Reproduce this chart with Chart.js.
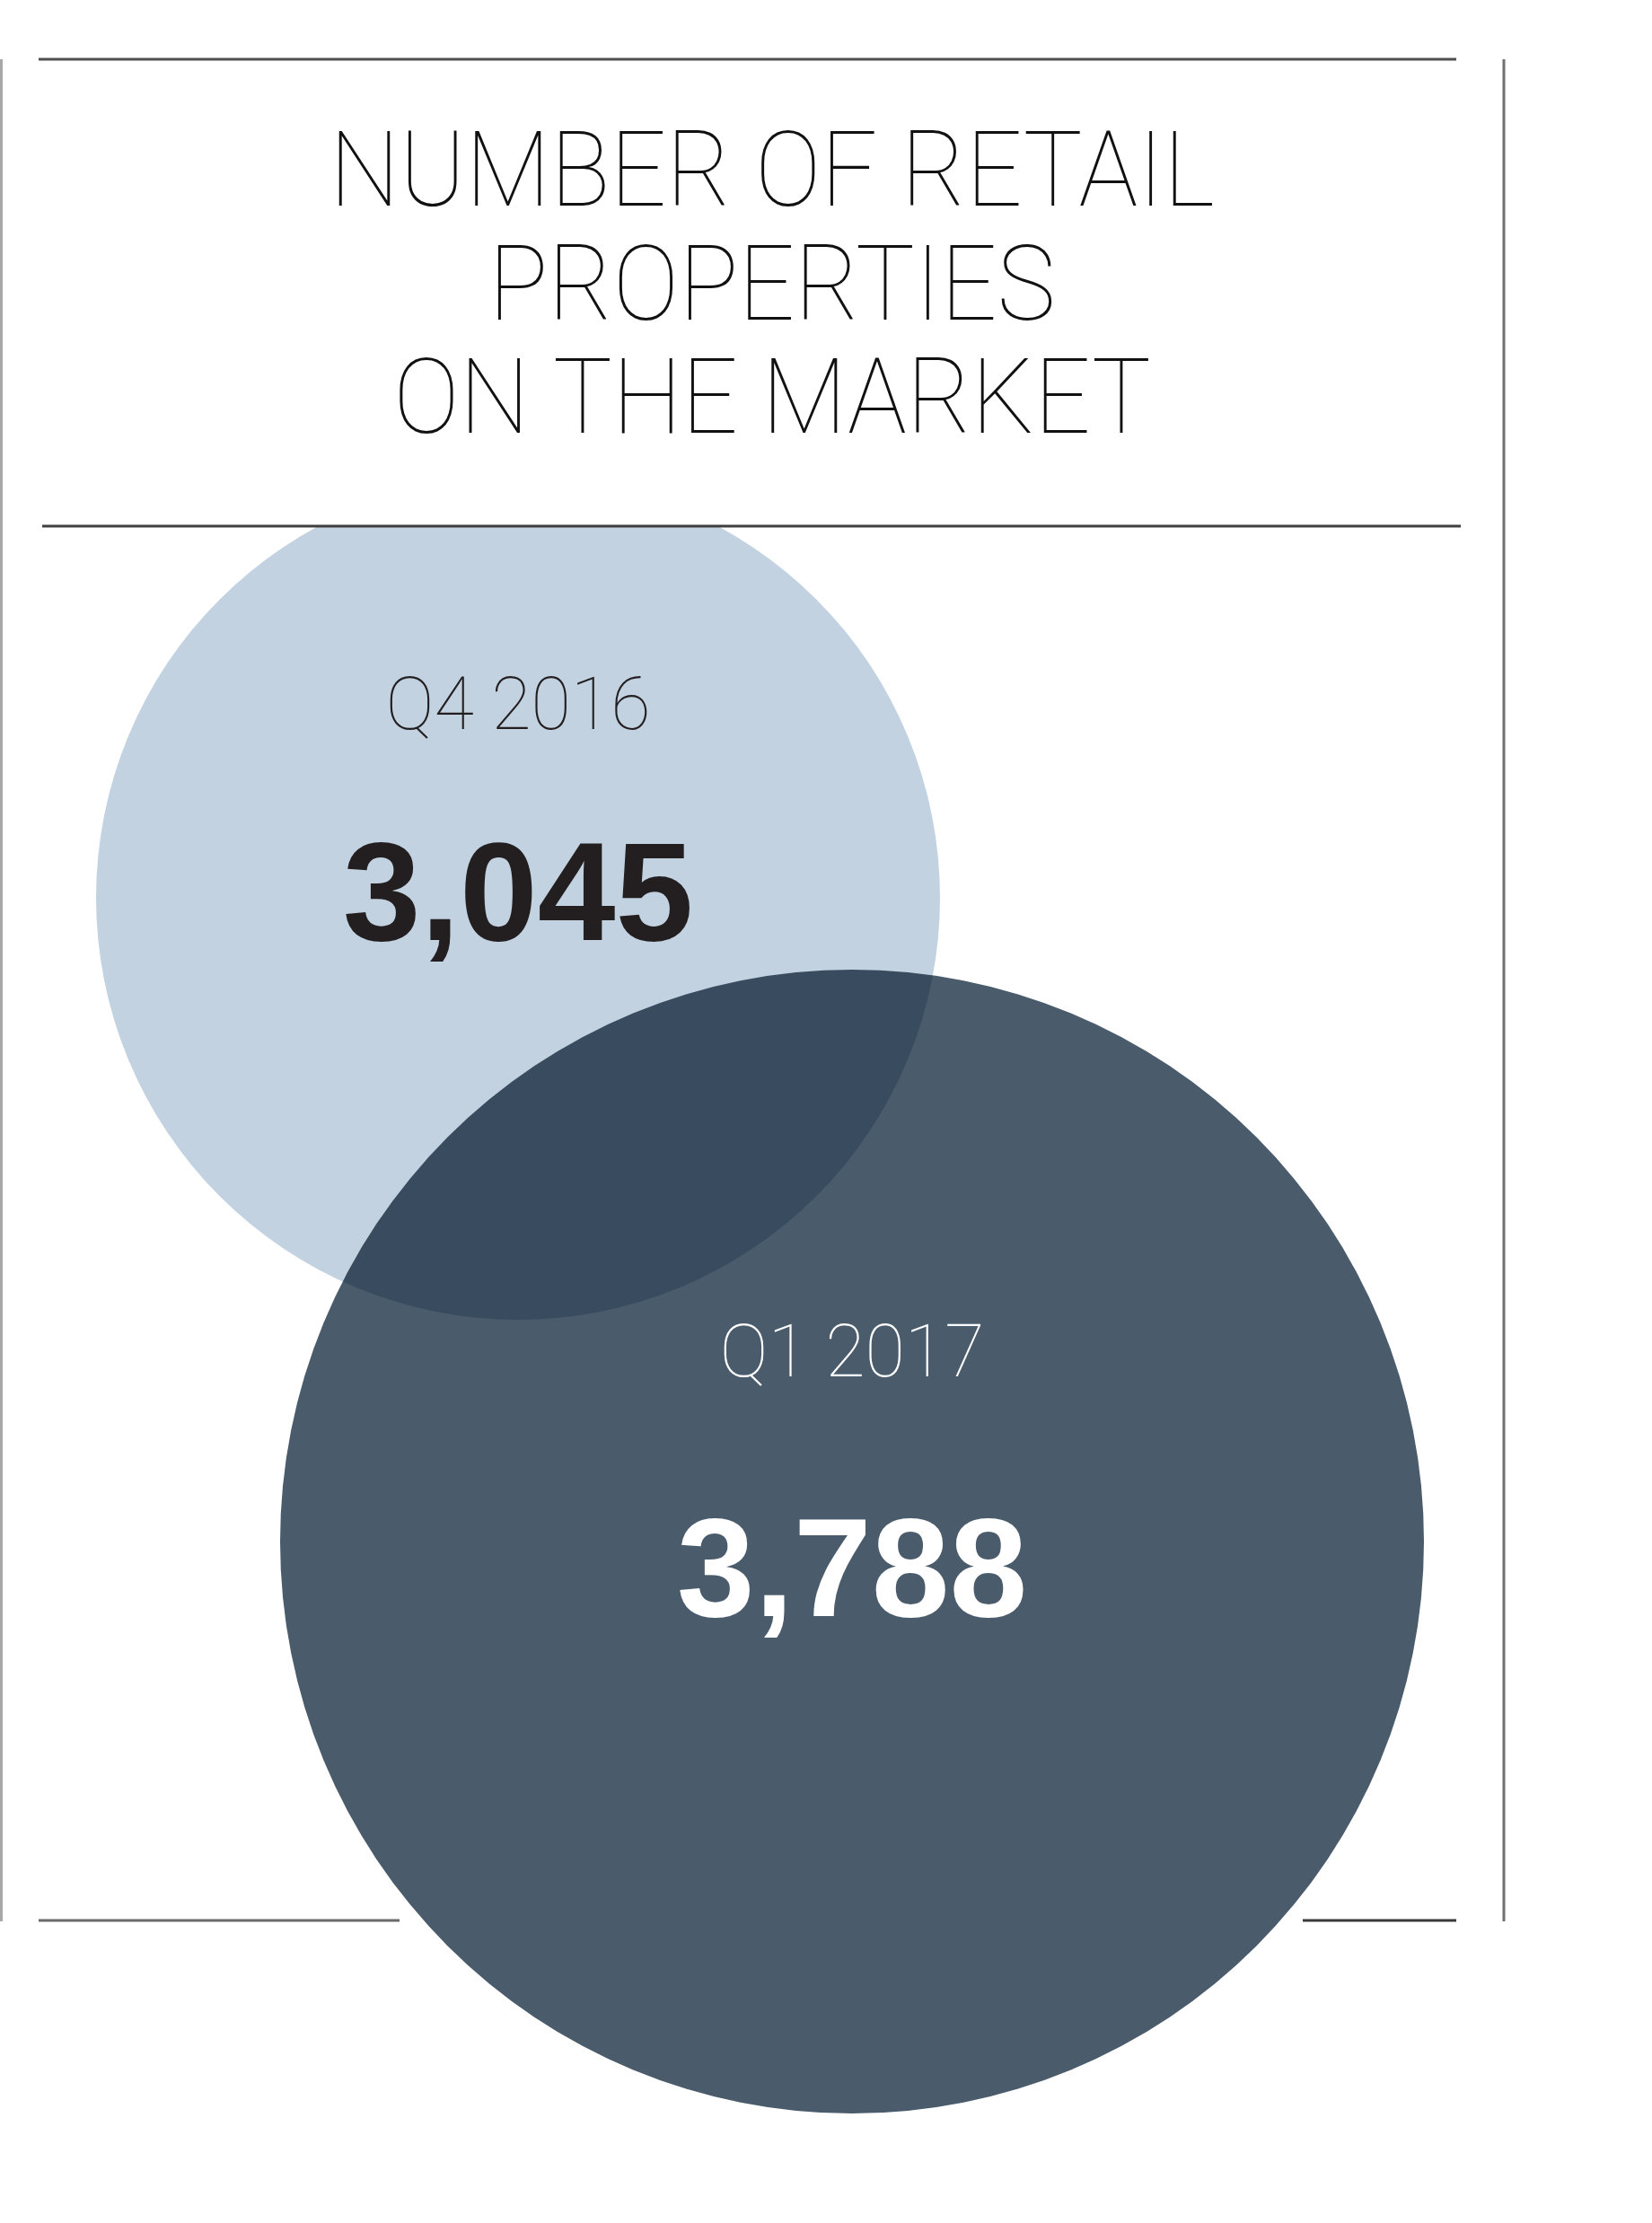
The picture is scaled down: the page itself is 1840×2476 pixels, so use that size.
<!DOCTYPE html>
<html>
<head>
<meta charset="utf-8">
<script src="https://cdn.jsdelivr.net/npm/chart.js@4/dist/chart.umd.min.js"></script>
<style>
  html, body { margin: 0; padding: 0; background: #ffffff; }
  #wrap { position: relative; width: 1840px; height: 2476px; }
  canvas { display: block; }
</style>
</head>
<body>
<div id="wrap"><canvas id="c" width="1840" height="2476"></canvas></div>
<script>
// ---- data ----
const titleLines = ['NUMBER OF RETAIL', 'PROPERTIES', 'ON THE MARKET'];
const categories = ['Q4 2016', 'Q1 2017'];
const values = [3045, 3788];
const valueLabels = ['3,045', '3,788'];

// ---- styles ----
const bubbleColors = ['#c2d2e1', '#4a5b6c'];
const bubbleRadii = [470, 637];
const textColors = ['#231f20', '#ffffff'];
const labelOffsets = [-188, -184];
const numberOffsets = [47, 83];

const W = 1840, H = 2476;

// Bubble controller whose bubbles may reach the canvas edge (no auto padding)
class FlatBubbleController extends Chart.BubbleController {
  getMaxOverflow() { return 0; }
}
FlatBubbleController.id = 'flatBubble';
FlatBubbleController.defaults = Chart.BubbleController.defaults;
FlatBubbleController.overrides = Chart.BubbleController.overrides;
Chart.register(FlatBubbleController);

const decorPlugin = {
  id: 'decor',
  beforeDatasetDraw(chart) {
    const ctx = chart.ctx;
    ctx.save();
    ctx.beginPath();
    ctx.rect(0, 586, W, H - 586);
    ctx.clip();
    ctx.globalCompositeOperation = 'multiply';
  },
  afterDatasetDraw(chart) {
    chart.ctx.restore();
  },
  afterDraw(chart) {
    const ctx = chart.ctx;
    ctx.save();
    const hline = (x1, x2, y, color, w) => {
      ctx.beginPath(); ctx.strokeStyle = color; ctx.lineWidth = w;
      ctx.moveTo(x1, y); ctx.lineTo(x2, y); ctx.stroke();
    };
    const vline = (x, y1, y2, color, w) => {
      ctx.beginPath(); ctx.strokeStyle = color; ctx.lineWidth = w;
      ctx.moveTo(x, y1); ctx.lineTo(x, y2); ctx.stroke();
    };
    hline(43, 1622, 66, '#4f4f4f', 3);
    hline(47, 1627, 586, '#3f3f3f', 3);
    hline(43, 445, 2139, '#6a6a6a', 3);
    hline(1451, 1622, 2139, '#3a3a3a', 3);
    vline(1675, 66, 2140, '#707070', 3);
    vline(1.5, 66, 2140, '#a8a8a8', 3);

    // title
    ctx.fillStyle = '#111111';
    ctx.textAlign = 'center';
    ctx.textBaseline = 'alphabetic';
    ctx.font = '100 116px Roboto, "Liberation Sans", sans-serif';
    const m0 = ctx.measureText(titleLines[0]).width;
    const sx = 986 / m0;
    const baselines = [229, 356, 482];
    titleLines.forEach((t, i) => {
      ctx.save();
      ctx.translate(860, baselines[i]);
      ctx.scale(sx, 1);
      ctx.fillText(t, 0, 0);
      ctx.restore();
    });

    // bubble labels placed from the library's element positions
    const meta = chart.getDatasetMeta(0);
    meta.data.forEach((el, i) => {
      ctx.fillStyle = textColors[i];
      ctx.font = '100 81px Roboto, "Liberation Sans", sans-serif';
      ctx.fillText(categories[i], el.x, el.y + labelOffsets[i]);
      ctx.font = 'bold 156px "Liberation Sans", Arial, sans-serif';
      ctx.fillText(valueLabels[i], el.x, el.y + numberOffsets[i]);
    });
    ctx.restore();
  }
};

new Chart(document.getElementById('c'), {
  type: 'flatBubble',
  data: {
    labels: categories,
    datasets: [{
      label: 'Number of retail properties on the market',
      data: values.map((v, i) => ({ x: i, y: v })),
      backgroundColor: bubbleColors,
      borderColor: bubbleColors,
      borderWidth: 0,
      radius: (ctx) => bubbleRadii[ctx.dataIndex],
      hoverRadius: 0,
      clip: false
    }]
  },
  options: {
    responsive: false,
    animation: false,
    devicePixelRatio: 1,
    events: [],
    layout: { padding: 0 },
    plugins: { legend: { display: false }, tooltip: { enabled: false }, title: { display: false } },
    scales: {
      x: { type: 'linear', display: false, min: -1.5511, max: 3.3952 },
      y: { type: 'linear', display: false, reverse: true, min: 2008.74, max: 4574.54 }
    }
  },
  plugins: [decorPlugin]
});
</script>
</body>
</html>
